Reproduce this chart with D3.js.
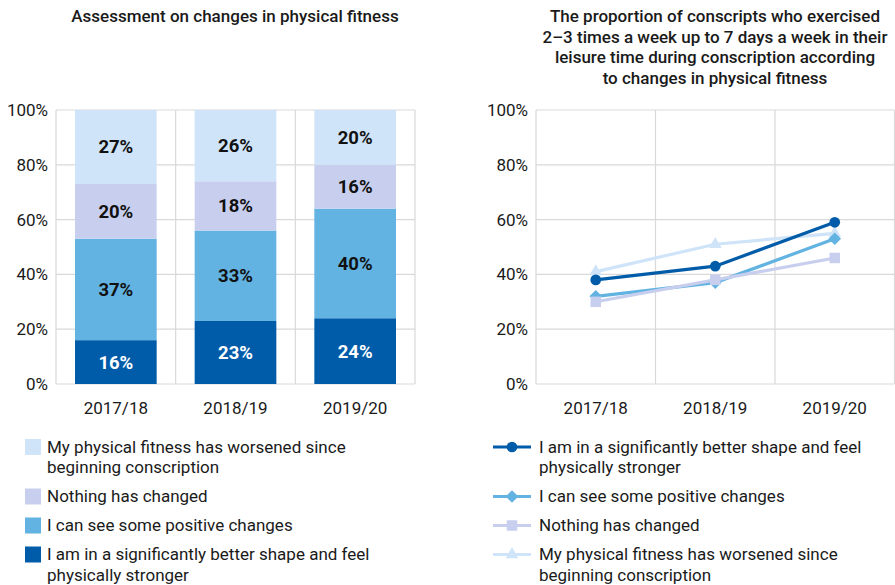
<!DOCTYPE html>
<html>
<head>
<meta charset="utf-8">
<script src="https://cdn.jsdelivr.net/npm/d3@7"></script>
<style>
  body { margin: 0; background: #fff; }
  text { font-family: Roboto, "Noto Sans", sans-serif; fill: #1a1a1a; }
</style>
</head>
<body>
<div id="chart"></div>
<script>
// data
const categories = ["2017/18", "2018/19", "2019/20"];
const yTicks = [0, 20, 40, 60, 80, 100];

// left: stacked shares (bottom to top)
const stackKeys = ["better", "positive", "nothing", "worsened"];
const betterShape = [16, 23, 24];
const positiveChanges = [37, 33, 40];
const nothingChanged = [20, 18, 16];
const worsened = [27, 26, 20];

// right: proportion exercising 2-3 times a week or more
const lineBetter = [38, 43, 59];
const linePositive = [32, 37, 53];
const lineNothing = [30, 38, 46];
const lineWorsened = [41, 51, 55];

const labels = {
  better: ["I am in a significantly better shape and feel", "physically stronger"],
  positive: ["I can see some positive changes"],
  nothing: ["Nothing has changed"],
  worsened: ["My physical fitness has worsened since", "beginning conscription"]
};
const colors = {
  better: "#005ca9",
  positive: "#62b3e2",
  nothing: "#c8cfee",
  worsened: "#cfe4f8"
};

const leftTitle = ["Assessment on changes in physical fitness"];
const rightTitle = ["The proportion of conscripts who exercised",
  "2\u20133 times a week up to 7 days a week in their",
  "leisure time during conscription according",
  "to changes in physical fitness"];

const width = 895, height = 585;
const svg = d3.select("#chart").append("svg")
  .attr("width", width).attr("height", height);

const plotTop = 110, plotBottom = 384;
const y = d3.scaleLinear().domain([0, 100]).range([plotBottom, plotTop]);

function drawFrame(x0, x1) {
  const x = d3.scaleBand().domain(categories).range([x0, x1]).padding(0);
  const g = svg.append("g");
  // horizontal grid
  g.selectAll(".hg").data(yTicks).join("line")
    .attr("x1", x0).attr("x2", x1)
    .attr("y1", d => y(d)).attr("y2", d => y(d))
    .attr("stroke", "#d9d9d9").attr("stroke-width", 1.2);
  // vertical grid at band edges
  const edges = categories.map(c => x(c)).concat([x1]);
  g.selectAll(".vg").data(edges).join("line")
    .attr("x1", d => d).attr("x2", d => d)
    .attr("y1", plotTop).attr("y2", plotBottom)
    .attr("stroke", "#d9d9d9").attr("stroke-width", 1.2);
  // y tick labels
  g.selectAll(".yt").data(yTicks).join("text")
    .attr("x", x0 - 8).attr("y", d => y(d)).attr("dy", "0.35em")
    .attr("text-anchor", "end").style("font-size", "17px")
    .text(d => d + "%");
  // category labels
  g.selectAll(".xt").data(categories).join("text")
    .attr("x", d => x(d) + x.bandwidth() / 2).attr("y", 408).attr("dy", "0.35em")
    .attr("text-anchor", "middle").style("font-size", "17px")
    .text(d => d);
  return x;
}

function drawTitle(lines, cx) {
  svg.append("g").selectAll("text").data(lines).join("text")
    .attr("x", cx).attr("y", (d, i) => 16 + i * 20.6).attr("dy", "0.35em")
    .attr("text-anchor", "middle").style("font-size", "17px").style("font-weight", 500)
    .text(d => d);
}

function legendRows(keys) {
  let yy = 447;
  return keys.map(k => {
    const row = { key: k, y: yy, lines: labels[k] };
    yy += labels[k].length * 20.5 + 8.5;
    return row;
  });
}

// ---------- left: stacked bars ----------
const xl = drawFrame(56, 415);
const table = categories.map((c, i) => ({
  cat: c, better: betterShape[i], positive: positiveChanges[i],
  nothing: nothingChanged[i], worsened: worsened[i]
}));
const stacked = d3.stack().keys(stackKeys)(table);
const barPad = 19;
const layers = svg.append("g").selectAll("g").data(stacked).join("g")
  .attr("fill", d => colors[d.key]);
layers.selectAll("rect").data(d => d).join("rect")
  .attr("x", d => xl(d.data.cat) + barPad)
  .attr("width", xl.bandwidth() - 2 * barPad)
  .attr("y", d => y(d[1]))
  .attr("height", d => y(d[0]) - y(d[1]));
layers.selectAll("text").data(d => d.map(p => Object.assign(p, { key: d.key }))).join("text")
  .attr("x", d => xl(d.data.cat) + xl.bandwidth() / 2)
  .attr("y", d => y((d[0] + d[1]) / 2)).attr("dy", "0.35em")
  .attr("text-anchor", "middle")
  .style("font-size", "18.5px").style("font-weight", 700)
  .style("fill", d => d.key === "better" ? "#fff" : "#111")
  .text(d => (d[1] - d[0]) + "%");

drawTitle(leftTitle, 235);

const leftLeg = svg.append("g").selectAll("g")
  .data(legendRows(["worsened", "nothing", "positive", "better"])).join("g");
leftLeg.append("rect")
  .attr("x", 25).attr("y", d => d.y - 8).attr("width", 16).attr("height", 16)
  .attr("fill", d => colors[d.key]);
leftLeg.selectAll("text").data(d => d.lines.map((t, i) => ({ t, y: d.y + i * 20.5 }))).join("text")
  .attr("x", 47).attr("y", d => d.y).attr("dy", "0.35em")
  .style("font-size", "17px").text(d => d.t);

// ---------- right: lines ----------
const xr = drawFrame(536, 894.5);
const lineData = {
  better: lineBetter, positive: linePositive, nothing: lineNothing, worsened: lineWorsened
};
const symbols = {
  better: d3.symbolCircle, positive: d3.symbolSquare,
  nothing: d3.symbolSquare, worsened: d3.symbolTriangle
};
const symSize = { better: 90, positive: 80, nothing: 110, worsened: 70 };
const symRotate = { better: 0, positive: 45, nothing: 0, worsened: 0 };
const line = d3.line()
  .x((d, i) => xr(categories[i]) + xr.bandwidth() / 2)
  .y(d => y(d));
const drawOrder = ["worsened", "positive", "nothing", "better"];
const series = svg.append("g").selectAll("g").data(drawOrder).join("g");
series.append("path")
  .attr("d", k => line(lineData[k]))
  .attr("fill", "none").attr("stroke", k => colors[k]).attr("stroke-width", 3.2);
series.selectAll("path.m").data(k => lineData[k].map((v, i) => ({ k, v, i }))).join("path")
  .attr("class", "m")
  .attr("transform", d => `translate(${xr(categories[d.i]) + xr.bandwidth() / 2},${y(d.v)}) rotate(${symRotate[d.k]})`)
  .attr("d", d => d3.symbol(symbols[d.k], symSize[d.k])())
  .attr("fill", d => colors[d.k]);

drawTitle(rightTitle, 715);

const rightLeg = svg.append("g").selectAll("g")
  .data(legendRows(["better", "positive", "nothing", "worsened"])).join("g");
rightLeg.append("line")
  .attr("x1", 493).attr("x2", 531).attr("y1", d => d.y).attr("y2", d => d.y)
  .attr("stroke", d => colors[d.key]).attr("stroke-width", 3.2);
rightLeg.append("path")
  .attr("transform", d => `translate(512,${d.y}) rotate(${symRotate[d.key]})`)
  .attr("d", d => d3.symbol(symbols[d.key], symSize[d.key])())
  .attr("fill", d => colors[d.key]);
rightLeg.selectAll("text").data(d => d.lines.map((t, i) => ({ t, y: d.y + i * 20.5 }))).join("text")
  .attr("x", 539).attr("y", d => d.y).attr("dy", "0.35em")
  .style("font-size", "17px").text(d => d.t);
</script>
</body>
</html>
